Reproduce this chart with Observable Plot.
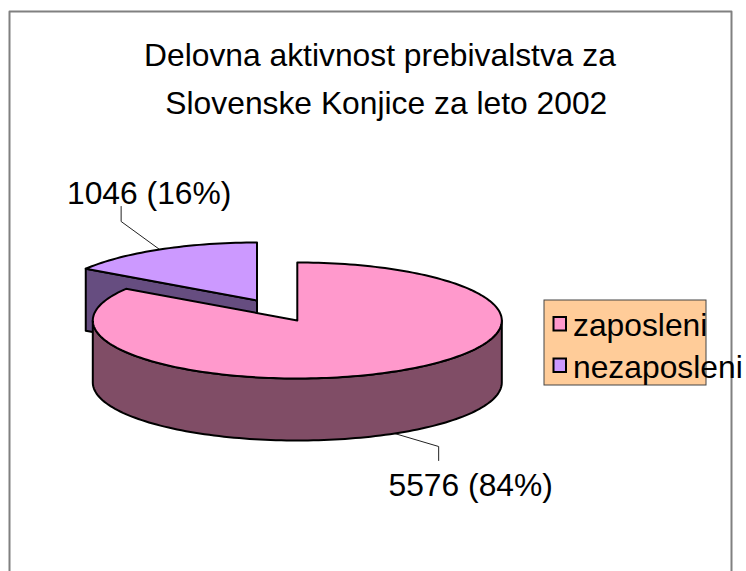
<!DOCTYPE html>
<html>
<head>
<meta charset="utf-8">
<script src="https://cdn.jsdelivr.net/npm/d3@7"></script>
<script src="https://cdn.jsdelivr.net/npm/@observablehq/plot@0.6"></script>
<style>html,body{margin:0;padding:0;background:#fff}svg{display:block}</style>
</head>
<body>
<div id="chart"></div>
<script>
const titleLines = ["Delovna aktivnost prebivalstva za", "Slovenske Konjice za leto 2002"];
const categories = ["zaposleni", "nezaposleni"];
const values = [5576, 1046];
const percents = [84, 16];
const topColors = ["#FF99CC", "#CC99FF"];
const wallColors = ["#804D66", "#664D80"];

const W = 746, H = 571, FS = 31.8;
const RX = 204.5, RY = 58, DEPTH = 62;
const mainC = [296.8, 320], pulledC = [256.5, 300];

const total = d3.sum(values);
const cut = 360 * values[1] / total;           // clockwise degrees from 12 o'clock
const pt = (c, deg, dy = 0) => {
  const a = deg * Math.PI / 180;
  return {x: c[0] + RX * Math.sin(a), y: c[1] - RY * Math.cos(a) + dy};
};
const arc = (c, a0, a1, dy = 0) => {
  const n = Math.max(2, Math.ceil(Math.abs(a1 - a0) / 1.5));
  return d3.range(n + 1).map(i => pt(c, a0 + (a1 - a0) * i / n, dy));
};
const apex = (c, dy = 0) => ({x: c[0], y: c[1] + dy});

// Pink slice: clockwise from 12 o'clock to the 16% cut
const pinkTop = [apex(mainC), ...arc(mainC, 0, 360 - cut), apex(mainC)];
const pinkWall = [...arc(mainC, 90, 270), ...arc(mainC, 270, 90, DEPTH)];
pinkWall.push(pinkWall[0]);

// Purple slice, pulled out to the back left
const purpleTop = [apex(pulledC), ...arc(pulledC, 360, 360 - cut), apex(pulledC)];
const edge = pt(pulledC, 360 - cut);
const purpleWall = [edge, apex(pulledC), apex(pulledC, DEPTH), {x: edge.x, y: edge.y + DEPTH}, edge];

// Leader lines, anchored on each slice's mid angle
const pm = pt(pulledC, 360 - cut / 2);
const leaderPurple = [pm, {x: pm.x - 38.5, y: pm.y - 28}, {x: pm.x - 38.5, y: pm.y - 43}];
const zm = pt(mainC, (360 - cut) / 2, DEPTH);
const leaderPink = [zm, {x: zm.x + 44, y: zm.y + 13}, {x: zm.x + 44, y: zm.y + 27}];

const frame = [{x: 9, y: H}, {x: 9, y: 11}, {x: 731, y: 11}, {x: 731, y: H}];
const legendBox = [{x1: 544, x2: 706, y1: 300, y2: 385}];
const legendRows = categories.map((name, i) => ({
  name, color: topColors[i],
  x1: 553.5, x2: 566, y1: 317 + 41.5 * i, y2: 330.5 + 41.5 * i,
  tx: 572.5, ty: 335 + 42 * i
}));
const dataLabels = [
  {text: `${values[1]} (${percents[1]}%)`, x: 66.5, y: 203},
  {text: `${values[0]} (${percents[0]}%)`, x: 388, y: 495}
];
const titles = [
  {text: titleLines[0], x: 379.5, y: 65},
  {text: titleLines[1], x: 385.8, y: 113}
];

const poly = (d, fill) => Plot.line(d, {x: "x", y: "y", fill, stroke: "#000", strokeWidth: 2, curve: "linear", strokeLinejoin: "round"});
const leader = d => Plot.line(d, {x: "x", y: "y", stroke: "#222", strokeWidth: 1, curve: "linear"});
const txt = {fontSize: FS, fontFamily: "Liberation Sans, Arial, sans-serif", fill: "#000", lineAnchor: "bottom"};

const chart = Plot.plot({
  width: W, height: H,
  margin: 0,
  style: {background: "#fff", overflow: "visible"},
  x: {axis: null, domain: [0, W], range: [0, W]},
  y: {axis: null, domain: [0, H], range: [0, H]},
  marks: [
    Plot.line(frame, {x: "x", y: "y", stroke: "#808080", strokeWidth: 2, curve: "linear"}),
    Plot.text(titles, {x: "x", y: "y", text: "text", textAnchor: "middle", ...txt}),
    leader(leaderPurple),
    leader(leaderPink),
    poly(purpleWall, wallColors[1]),
    poly(purpleTop, topColors[1]),
    poly(pinkWall, wallColors[0]),
    poly(pinkTop, topColors[0]),
    Plot.text(dataLabels, {x: "x", y: "y", text: "text", textAnchor: "start", ...txt}),
    Plot.rect(legendBox, {x1: "x1", x2: "x2", y1: "y1", y2: "y2", fill: "#FFCC99", stroke: "#444", strokeWidth: 1}),
    Plot.rect(legendRows, {x1: "x1", x2: "x2", y1: "y1", y2: "y2", fill: d => d.color, stroke: "#000", strokeWidth: 2}),
    Plot.text(legendRows, {x: "tx", y: "ty", text: "name", textAnchor: "start", ...txt})
  ]
});
document.getElementById("chart").appendChild(chart);
</script>
</body>
</html>
